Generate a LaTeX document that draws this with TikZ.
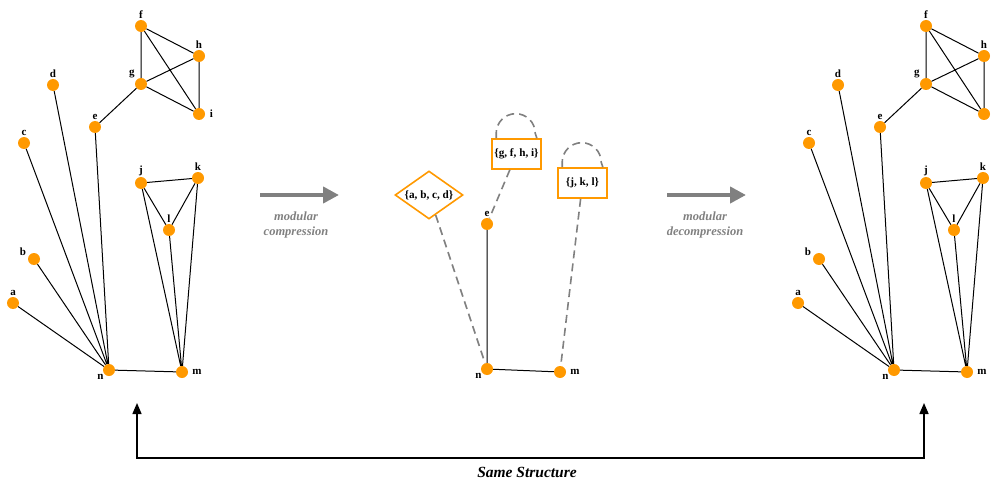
\documentclass[tikz,border=0pt]{standalone}
\usepackage{fontspec}
\setmainfont{Liberation Serif}
\usetikzlibrary{arrows.meta,shapes.geometric}
\definecolor{vorange}{HTML}{FF9900}
\definecolor{agrey}{HTML}{808080}
\newcommand\origgraph{%
  \node[vtx,label=90:f] (f) at (141,26) {};
  \node[vtx,label=90:h] (h) at (199,56) {};
  \node[vtx,label={[label distance=1pt]135:g}] (g) at (141,84) {};
  \node[vtx,label={[label distance=3.5pt]0:i}] (i) at (199,114) {};
  \node[vtx,label=90:d] (d) at (53,85) {};
  \node[vtx,label=90:e] (e) at (95,127) {};
  \node[vtx,label=90:c] (c) at (24,143) {};
  \node[vtx,label=90:j] (j) at (141,183) {};
  \node[vtx,label=90:k] (k) at (198,178) {};
  \node[vtx,label=90:l] (l) at (169,230) {};
  \node[vtx,label={[label distance=1pt]160:b}] (b) at (34,259) {};
  \node[vtx,label=90:a] (a) at (13,303) {};
  \node[vtx,label={[label distance=-1pt]215:n}] (n) at (109,370) {};
  \node[vtx,label={[label distance=3pt]0:m}] (m) at (182,372) {};
  \draw[edge] (f) -- (g) (f) -- (h) (f) -- (i) (g) -- (h) (g) -- (i) (h) -- (i)
    (g) -- (e) (e) -- (n) (d) -- (n) (c) -- (n) (b) -- (n) (a) -- (n) (n) -- (m)
    (j) -- (k) (j) -- (l) (k) -- (l) (j) -- (m) (k) -- (m) (l) -- (m);
}
\begin{document}
\begin{tikzpicture}[x=1pt,y=-1pt,
  vtx/.style={circle,fill=vorange,minimum size=12pt,inner sep=0pt},
  lbl/.style={font=\bfseries\fontsize{11}{12}\selectfont,inner sep=1pt},
  every label/.style={lbl},
  label distance=0pt,
  edge/.style={draw=black,line width=1pt},
  dedge/.style={draw=agrey,line width=1.6pt,dash pattern=on 8pt off 5pt},
  modbox/.style={draw=vorange,line width=1.6pt,fill=white,minimum width=49pt,minimum height=30pt,inner sep=0pt},
  modtext/.style={font=\bfseries\fontsize{11.2}{12}\selectfont,inner sep=0pt},
  bigarrow/.style={draw=agrey,line width=4.5pt,-{Triangle[length=16pt,width=16pt]}},
  alabel/.style={text=agrey,font=\bfseries\itshape\fontsize{12.5}{15}\selectfont,align=center},
  ssarrow/.style={draw=black,line width=1.5pt},
]
\useasboundingbox (0,0) rectangle (993,484);
% left original graph
\begin{scope}[name prefix=L-]
\origgraph
\end{scope}
% right decompressed graph
\begin{scope}[xshift=785pt,name prefix=R-]
\origgraph
\end{scope}
% middle compressed graph
\node[diamond,draw=vorange,line width=1.6pt,fill=white,minimum width=68pt,minimum height=48pt,inner sep=0pt] (D) at (429,195) {};
\node[modtext] (Dt) at (D.center) {\{a, b, c, d\}};
\node[modbox,modtext] (G) at (516.5,154) {\{g, f, h, i\}};
\node[modbox,modtext] (J) at (582.5,183) {\{j, k, l\}};
\node[vtx,label=90:e] (Me) at (487,224) {};
\node[vtx,label={[label distance=-1pt]215:n}] (Mn) at (487,369) {};
\node[vtx,label={[label distance=3pt]0:m}] (Mm) at (560,372) {};
\draw[edge] (Me) -- (Mn) (Mn) -- (Mm);
\draw[dedge] (D) -- (Mn);
\draw[dedge] (G) -- (Me);
\draw[dedge] (J) -- (Mm);
\draw[dedge] ([xshift=5pt]G.north west) -- ++(0,-5) arc (180:360:19.5) -- ([xshift=-5pt]G.north east);
\draw[dedge] ([xshift=5pt]J.north west) -- ++(0,-5) arc (180:360:19.5) -- ([xshift=-5pt]J.north east);
% process arrows
\coordinate (c1s) at (260,195);
\coordinate (c1e) at (339,195);
\draw[bigarrow] (c1s) -- (c1e);
\node[alabel] (c1l) at (296,225) {modular\\compression};
\coordinate (c2s) at (667,195);
\coordinate (c2e) at (746,195);
\draw[bigarrow] (c2s) -- (c2e);
\node[alabel] (c2l) at (705,225) {modular\\decompression};
% same structure
\coordinate (sl) at (137,403);
\coordinate (sr) at (924,403);
\coordinate (bl) at (137,458);
\coordinate (br) at (924,458);
\draw[ssarrow,{Triangle[length=11pt,width=9pt]}-{Triangle[length=11pt,width=9pt]}] (sl) -- (bl) -- (br) -- (sr);
\node[font=\bfseries\itshape\fontsize{15.5}{18}\selectfont] (ss) at (527,472) {Same Structure};
\end{tikzpicture}
\end{document}
